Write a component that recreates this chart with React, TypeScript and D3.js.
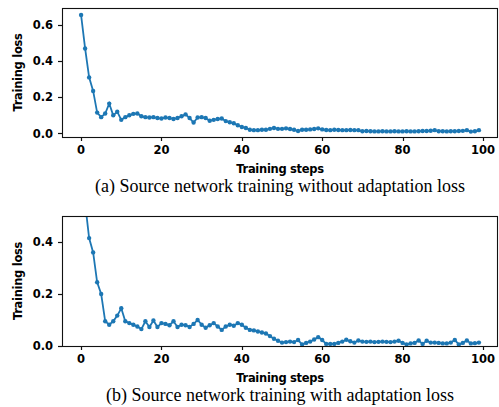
import React from "react";
import * as d3 from "d3";

const width = 499;
const height = 407;

// training loss per step
const lossNoAdapt = [
  0.655, 0.47, 0.31, 0.235, 0.115, 0.09, 0.11, 0.165, 0.1, 0.12,
  0.075, 0.09, 0.1, 0.108, 0.11, 0.095, 0.09, 0.088, 0.09, 0.085,
  0.082, 0.088, 0.085, 0.08, 0.085, 0.095, 0.105, 0.085, 0.06, 0.088,
  0.09, 0.085, 0.07, 0.075, 0.08, 0.082, 0.068, 0.062, 0.056, 0.045,
  0.035, 0.03, 0.02, 0.018, 0.018, 0.02, 0.02, 0.025, 0.03, 0.025,
  0.025, 0.028, 0.024, 0.02, 0.013, 0.02, 0.02, 0.022, 0.024, 0.028,
  0.022, 0.019, 0.018, 0.02, 0.019, 0.018, 0.018, 0.019, 0.018, 0.018,
  0.012, 0.013, 0.012, 0.011, 0.011, 0.012, 0.011, 0.011, 0.012, 0.011,
  0.011, 0.012, 0.011, 0.011, 0.012, 0.013, 0.013, 0.015, 0.018, 0.012,
  0.012, 0.011, 0.012, 0.012, 0.013, 0.014, 0.018, 0.01, 0.012, 0.018,
];

const lossAdapt = [
  0.72, 0.55, 0.415, 0.36, 0.245, 0.2, 0.095, 0.082, 0.095, 0.117,
  0.145, 0.095, 0.088, 0.082, 0.075, 0.065, 0.095, 0.073, 0.098, 0.073,
  0.088, 0.085, 0.08, 0.095, 0.073, 0.082, 0.08, 0.073, 0.085, 0.1,
  0.082, 0.07, 0.08, 0.088, 0.075, 0.062, 0.075, 0.082, 0.078, 0.088,
  0.082, 0.07, 0.062, 0.06, 0.056, 0.052, 0.048, 0.038, 0.028, 0.02,
  0.013, 0.015, 0.017, 0.015, 0.023, 0.006, 0.012, 0.017, 0.025, 0.034,
  0.023, 0.008, 0.008, 0.008, 0.012, 0.017, 0.024, 0.018, 0.013, 0.021,
  0.017, 0.016, 0.017, 0.015, 0.016, 0.017, 0.016, 0.015, 0.017, 0.02,
  0.012, 0.006, 0.01, 0.012, 0.021, 0.008, 0.02, 0.013, 0.013, 0.012,
  0.01, 0.01, 0.013, 0.023, 0.006, 0.012, 0.021, 0.01, 0.011, 0.013,
];

const xTicks = [0, 20, 40, 60, 80, 100];
const yTicksTop = [0.0, 0.2, 0.4, 0.6];
const yTicksBottom = [0.0, 0.2, 0.4];

const captionTop = "(a) Source network training without adaptation loss";
const captionBottom = "(b) Source network training with adaptation loss";

const blue = "#1f77b4";
const sans = "'DejaVu Sans', sans-serif";

function Panel({id, values, yDomain, yTicks, top, bottom, caption, captionDy}) {
  const x = d3.scaleLinear().domain([-4.75, 103.75]).range([62, 498]);
  const y = d3.scaleLinear().domain(yDomain).range([bottom, top]);
  const line = d3.line<number>().x((d, i) => x(i)).y(d => y(d));
  const midX = (62 + 498) / 2;

  return (
    <g>
      <defs>
        <clipPath id={id}>
          <rect x={62} y={top} width={436} height={bottom - top}/>
        </clipPath>
      </defs>
      <g clipPath={`url(#${id})`}>
        <g filter="url(#soft)">
          <path d={line(values)} fill="none" stroke={blue} strokeWidth={1.8}/>
          {values.map((v, i) => (
            <circle key={i} cx={x(i)} cy={y(v)} r={2.2} fill={blue}/>
          ))}
        </g>
      </g>
      <rect x={62.5} y={top + 0.5} width={435} height={bottom - top} fill="none" stroke="#111" strokeWidth={1.1}/>
      {xTicks.map(t => (
        <g key={t}>
          <line x1={Math.round(x(t)) + 0.5} x2={Math.round(x(t)) + 0.5} y1={bottom} y2={bottom + 4} stroke="#111" strokeWidth={1.2}/>
          <text x={x(t)} y={bottom + 17} textAnchor="middle" fontFamily={sans} fontWeight="bold" fontSize={11.5}>{t}</text>
        </g>
      ))}
      {yTicks.map(t => (
        <g key={t}>
          <line x1={58} x2={62} y1={Math.round(y(t)) + 0.5} y2={Math.round(y(t)) + 0.5} stroke="#111" strokeWidth={1.2}/>
          <text x={53} y={y(t) + 4.2} textAnchor="end" fontFamily={sans} fontWeight="bold" fontSize={11.5}>{t.toFixed(1)}</text>
        </g>
      ))}
      <text x={midX} y={bottom + 35.5} textAnchor="middle" fontFamily={sans} fontWeight="bold" fontSize={11.5} letterSpacing={-0.3}>Training steps</text>
      <text transform={`translate(22,${(top + bottom) / 2}) rotate(-90)`} textAnchor="middle" fontFamily={sans} fontWeight="bold" fontSize={11.5} letterSpacing={-0.3}>Training loss</text>
      <text x={midX} y={bottom + captionDy} textAnchor="middle" fontFamily="'Liberation Serif', 'Times New Roman', serif" fontSize={18}>{caption}</text>
    </g>
  );
}

export default function App() {
  return (
    <svg width={width} height={height} style={{position: "absolute", left: 0, top: 0, background: "#fff"}}>
      <defs>
        <filter id="soft" x="-5%" y="-5%" width="110%" height="110%">
          <feGaussianBlur stdDeviation={0.35}/>
        </filter>
      </defs>
      <Panel id="clipA" values={lossNoAdapt} yDomain={[-0.02, 0.694]} yTicks={yTicksTop}
             top={8} bottom={137} caption={captionTop} captionDy={55}/>
      <Panel id="clipB" values={lossAdapt} yDomain={[0, 0.5]} yTicks={yTicksBottom}
             top={216} bottom={346} caption={captionBottom} captionDy={54.5}/>
    </svg>
  );
}
